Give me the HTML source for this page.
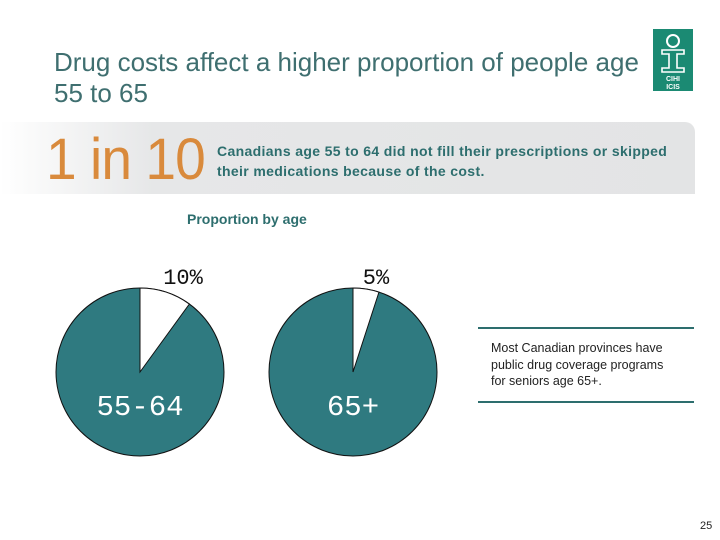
<!DOCTYPE html>
<html><head><meta charset="utf-8"><style>
body{margin:0;width:720px;height:540px;background:#fff;position:relative;overflow:hidden;font-family:"Liberation Sans",sans-serif}
.a{position:absolute}
</style></head><body>
<div class="a" style="left:54px;top:47px;font-size:26px;line-height:31px;color:#3f6f70;width:595px">Drug costs affect a higher proportion of people age 55 to 65</div>
<div class="a" style="left:653px;top:29px;width:40px;height:62px;background:#1b8a73">
<svg width="40" height="62"><circle cx="20" cy="12" r="6" fill="none" stroke="#fff" stroke-width="2"/><path d="M9 21h22v4h-7v14h7v4H9v-4h7V25H9z" fill="none" stroke="#fff" stroke-width="1.6"/><text x="20" y="52" font-size="7" fill="#fff" text-anchor="middle" font-weight="bold" font-family="Liberation Sans">CIHI</text><text x="20" y="60" font-size="7" fill="#fff" text-anchor="middle" font-weight="bold" font-family="Liberation Sans">ICIS</text></svg></div>
<div class="a" style="left:0;top:122px;width:695px;height:72px;background:linear-gradient(90deg,#fff 0%,#e6e7e8 22%,#e3e4e5 100%);border-radius:0 10px 0 0"></div>
<div class="a" style="left:46px;top:128px;font-size:58px;line-height:64px;color:#d98a3c;transform:scaleX(0.95);transform-origin:left;letter-spacing:-1px">1 in 10</div>
<div class="a" style="left:217px;top:141px;font-size:14px;line-height:20px;color:#2d6e6e;font-weight:bold;letter-spacing:0.35px;white-space:nowrap">Canadians age 55 to 64 did not fill their prescriptions or skipped<br>their medications because of the cost.</div>
<div class="a" style="left:187px;top:211px;font-size:14px;font-weight:bold;color:#2d6e6e">Proportion by age</div>
<svg class="a" style="left:0;top:0" width="720" height="540" id="pies"></svg>
<div class="a" style="left:478px;top:327px;width:216px;height:72px;border-top:2px solid #2d6e6e;border-bottom:2px solid #2d6e6e"></div>
<div class="a" style="left:491px;top:340px;font-size:12.5px;line-height:16.5px;color:#222;width:186px">Most Canadian provinces have public drug coverage programs for seniors age 65+.</div>
<div class="a" style="left:700px;top:520px;font-size:11px;color:#222">25</div>
<script>
const categories=["55-64","65+"];
const shares=[10,5];
const shareLabels=["10%","5%"];
const svg=document.getElementById('pies');const NS="http://www.w3.org/2000/svg";
const cx=[140,353],cy=372,r=84;
categories.forEach((c,i)=>{
  const a=shares[i]/100*2*Math.PI;
  const x=cx[i]+r*Math.sin(a),y=cy-r*Math.cos(a);
  const bg=document.createElementNS(NS,'circle');
  bg.setAttribute('cx',cx[i]);bg.setAttribute('cy',cy);bg.setAttribute('r',r);
  bg.setAttribute('fill','#2f7a80');bg.setAttribute('stroke','#111');bg.setAttribute('stroke-width','1');
  
  
  svg.appendChild(bg);
  const p=document.createElementNS(NS,'path');
  p.setAttribute('d',`M${cx[i]} ${cy}L${cx[i]} ${cy-r}A${r} ${r} 0 ${a>Math.PI?1:0} 1 ${x} ${y}Z`);
  p.setAttribute('fill','#fff');p.setAttribute('stroke','#111');p.setAttribute('stroke-width','1');
  
  
  svg.appendChild(p);
  const t=document.createElementNS(NS,'text');
  t.setAttribute('x',cx[i]+(i==0?43:23));t.setAttribute('y',284);t.setAttribute('text-anchor','middle');
  t.setAttribute('font-size','22');t.setAttribute('font-family','Liberation Mono, monospace');t.setAttribute('fill','#111');
  t.textContent=shareLabels[i];
  
  
  svg.appendChild(t);
  const l=document.createElementNS(NS,'text');
  l.setAttribute('x',cx[i]);l.setAttribute('y',415);l.setAttribute('text-anchor','middle');
  l.setAttribute('font-size','29');l.setAttribute('font-family','Liberation Mono, monospace');l.setAttribute('fill','#fff');
  l.textContent=c;
  
  
  svg.appendChild(l);
});
</script>
</body></html>
